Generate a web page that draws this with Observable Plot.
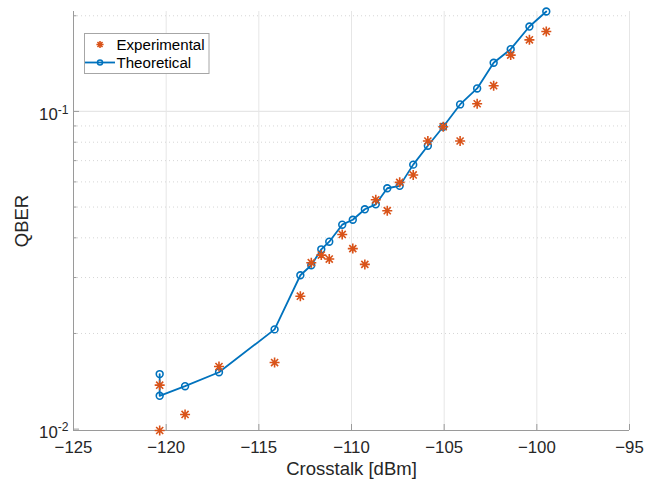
<!DOCTYPE html>
<html>
<head>
<meta charset="utf-8">
<script src="https://cdn.jsdelivr.net/npm/d3@7"></script>
<script src="https://cdn.jsdelivr.net/npm/@observablehq/plot@0.6"></script>
<style>
  body { margin: 0; background: #fff; }
  #chart { width: 659px; height: 481px; }
  svg { font-family: "Liberation Sans", Arial, sans-serif; }
</style>
</head>
<body>
<div id="chart"></div>
<script>
// Crosstalk [dBm] (shared by both series)
const crosstalk = [-120.35, -120.35, -118.98, -117.15, -114.15, -112.76, -112.17, -111.63, -111.2, -110.5, -109.93, -109.28, -108.69, -108.07, -107.4, -106.67, -105.88, -105.05, -104.14, -103.22, -102.33, -101.41, -100.4, -99.49];
const theoretical = [0.0149, 0.01273, 0.01365, 0.0151, 0.0206, 0.0305, 0.0328, 0.0368, 0.0389, 0.0440, 0.0456, 0.0492, 0.0510, 0.0573, 0.0583, 0.0680, 0.0780, 0.0895, 0.1052, 0.1181, 0.1423, 0.157, 0.185, 0.2063];
const experimental = [0.01375, 0.0099, 0.01112, 0.01574, 0.0162, 0.0262, 0.0334, 0.0353, 0.0343, 0.0410, 0.0370, 0.0330, 0.0527, 0.0487, 0.0598, 0.0631, 0.0807, 0.0895, 0.0807, 0.1057, 0.1205, 0.1504, 0.168, 0.1785];
const xTicks = [-125, -120, -115, -110, -105, -100, -95];
const yMajor = [0.01, 0.1];
const yMinor = [0.02, 0.03, 0.04, 0.05, 0.06, 0.07, 0.08, 0.09, 0.2];
const yLabelBase = ["10", "10"];
const yLabelExp = ["-2", "-1"];
const seriesNames = ["Experimental", "Theoretical"];

const theo = crosstalk.map((x, i) => ({x, y: theoretical[i]}));
const expd = crosstalk.map((x, i) => ({x, y: experimental[i]}));
const yMin = d3.min([...theoretical, ...experimental]);
const yMax = d3.max([...theoretical, ...experimental]);

const BLUE = "#0072BD", ORANGE = "#D95319", AXIS = "#9a9a9a", TXT = "#262626";

const asterisk = {
  draw(ctx, size) {
    const r = Math.sqrt(size / Math.PI);
    const d = r * Math.SQRT1_2;
    ctx.moveTo(-r, 0); ctx.lineTo(r, 0);
    ctx.moveTo(0, -r); ctx.lineTo(0, r);
    ctx.moveTo(-d, -d); ctx.lineTo(d, d);
    ctx.moveTo(-d, d); ctx.lineTo(d, -d);
  }
};

const plot = Plot.plot({
  width: 659,
  height: 481,
  marginLeft: 73,
  marginRight: 30,
  marginTop: 11,
  marginBottom: 51,
  style: {fontFamily: "Liberation Sans, Arial, sans-serif", fontSize: "16.8px", color: TXT, background: "#fff"},
  x: {domain: [-125, -95]},
  y: {type: "log", domain: [yMin, yMax]},
  marks: [
    // grid
    Plot.ruleX(xTicks, {stroke: "#e6e6e6", strokeWidth: 1}),
    Plot.ruleY(yMinor, {stroke: "#d6d6d6", strokeWidth: 1, strokeDasharray: "1,3"}),
    Plot.ruleY([0.1], {stroke: "#e6e6e6", strokeWidth: 1.2}),
    // axis lines
    Plot.ruleX([-125], {stroke: AXIS, strokeWidth: 1}),
    Plot.ruleY([yMin], {stroke: AXIS, strokeWidth: 1}),
    // inward ticks
    Plot.axisX(xTicks, {tickSize: -6, stroke: AXIS, text: null, label: null}),
    Plot.axisY(yMajor, {tickSize: -6, stroke: AXIS, text: null, label: null}),
    Plot.axisY(yMinor, {tickSize: -3.5, stroke: AXIS, text: null, label: null}),
    // x tick labels + label
    Plot.axisX(xTicks, {tickSize: 0, tickPadding: 11, fontSize: 16.8, fill: TXT, label: "Crosstalk [dBm]", labelAnchor: "center", labelArrow: "none", labelOffset: 44}),
    // y tick labels (superscripts added below)
    Plot.text(yMajor, {y: d => d, frameAnchor: "left", dx: -5, dy: 3, textAnchor: "end", text: (d, i) => yLabelBase[i], fontSize: 16.8, fill: TXT}),
    Plot.axisY({ticks: [], label: "QBER", labelAnchor: "center", labelArrow: "none", labelOffset: 59}),
    // data
    Plot.line(theo, {x: "x", y: "y", stroke: BLUE, strokeWidth: 1.8}),
    Plot.dot(theo, {x: "x", y: "y", r: 3.4, stroke: BLUE, strokeWidth: 1.6, fill: "none"}),
    Plot.dot(expd, {x: "x", y: "y", r: 5, symbol: asterisk, stroke: ORANGE, strokeWidth: 1.6, fill: "none"})
  ]
});

document.getElementById("chart").appendChild(plot);
const svg = d3.select(plot);

// superscript exponents on the y tick labels
svg.selectAll('g[aria-label="text"] text').each(function(_, i) {
  d3.select(this).append("tspan").attr("dy", "-0.5em").attr("font-size", "0.72em").text(yLabelExp[i]);
});
// axis label font sizes
svg.selectAll('g[aria-label="x-axis label"] text, g[aria-label="y-axis label"] text').attr("font-size", 18.5).attr("fill", TXT);

// legend
const lg = svg.append("g").attr("aria-label", "legend").attr("text-anchor", "start");
lg.append("rect").attr("x", 84.5).attr("y", 33.5).attr("width", 124.5).attr("height", 40)
  .attr("fill", "#fff").attr("stroke", "#a6a6a6").attr("stroke-width", 1);
const ast = d3.symbol(asterisk, Math.PI * 3.6 * 3.6)();
lg.append("path").attr("d", ast).attr("transform", "translate(100,44.5)")
  .attr("stroke", ORANGE).attr("stroke-width", 1.6).attr("fill", "none");
lg.append("line").attr("x1", 85).attr("x2", 115).attr("y1", 62.5).attr("y2", 62.5)
  .attr("stroke", BLUE).attr("stroke-width", 1.8);
lg.append("circle").attr("cx", 100).attr("cy", 62.5).attr("r", 2.5)
  .attr("stroke", BLUE).attr("stroke-width", 1.5).attr("fill", "none");
lg.append("text").attr("x", 116.5).attr("y", 50).attr("font-size", 15.1).attr("fill", "#000").text(seriesNames[0]);
lg.append("text").attr("x", 116.5).attr("y", 68).attr("font-size", 15.1).attr("fill", "#000").text(seriesNames[1]);
</script>
</body>
</html>
